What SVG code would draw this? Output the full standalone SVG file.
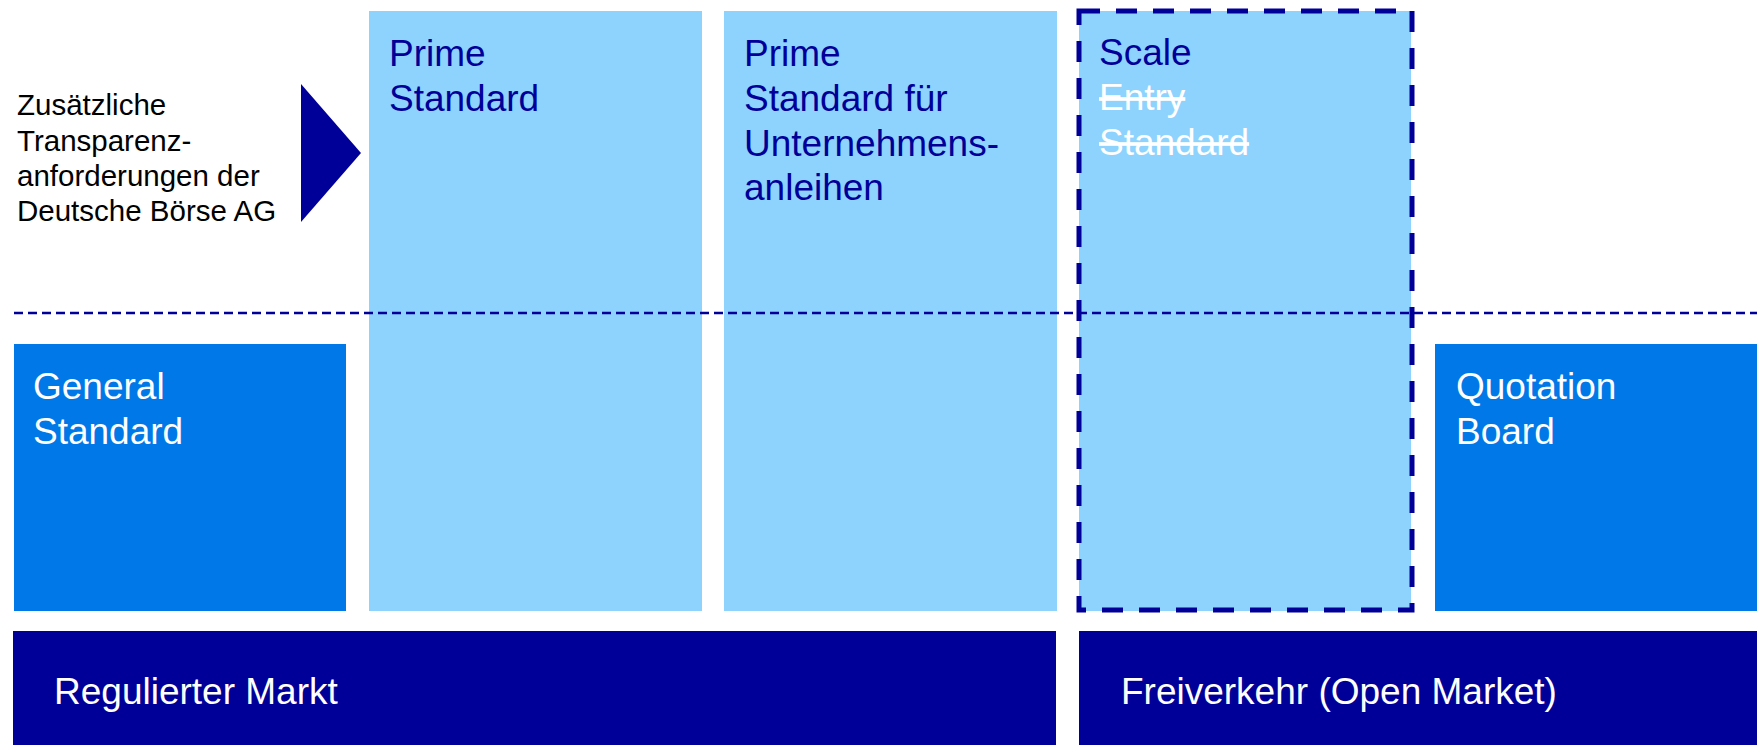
<svg xmlns="http://www.w3.org/2000/svg" width="1757" height="745" viewBox="0 0 1757 745">
<style>
text{font-family:"Liberation Sans",Arial,sans-serif}
.light{fill:#8DD3FE}
.mid{fill:#0078E8}
.dark{fill:#000099}
.t37{font-size:37px}
.navy{fill:#000099}
.white{fill:#ffffff}
.note{font-size:29.5px;fill:#000000}
</style>
<rect width="1757" height="745" fill="#ffffff"/>
<g id="prime-standard">
<rect class="light" x="369" y="11" width="333" height="600"/>
<text class="t37 navy" x="389"><tspan x="389" y="66">Prime</tspan><tspan x="389" y="111">Standard</tspan></text>
</g>
<g id="prime-standard-anleihen">
<rect class="light" x="724" y="11" width="333" height="600"/>
<text class="t37 navy"><tspan x="744" y="66">Prime</tspan><tspan x="744" y="111">Standard für</tspan><tspan x="744" y="156">Unternehmens-</tspan><tspan x="744" y="200">anleihen</tspan></text>
</g>
<g id="scale">
<rect class="light" x="1079" y="11" width="332" height="600"/>
<text class="t37"><tspan class="navy" x="1099" y="65">Scale</tspan><tspan class="white" x="1099" y="110" text-decoration="line-through">Entry</tspan><tspan class="white" x="1099" y="155" text-decoration="line-through">Standard</tspan></text>
</g>
<g id="general-standard">
<rect class="mid" x="14" y="344" width="332" height="267"/>
<text class="t37 white"><tspan x="33" y="399">General</tspan><tspan x="33" y="444">Standard</tspan></text>
</g>
<g id="quotation-board">
<rect class="mid" x="1435" y="344" width="322" height="267"/>
<text class="t37 white"><tspan x="1456" y="399">Quotation</tspan><tspan x="1456" y="444">Board</tspan></text>
</g>
<g id="regulierter-markt">
<rect class="dark" x="13" y="631" width="1043" height="114"/>
<text class="t37 white" x="54" y="704">Regulierter Markt</text>
</g>
<g id="freiverkehr">
<rect class="dark" x="1079" y="631" width="678" height="114"/>
<text class="t37 white" x="1121" y="704">Freiverkehr (Open Market)</text>
</g>
<g id="note">
<text class="note"><tspan x="17" y="115">Zusätzliche</tspan><tspan x="17" y="151">Transparenz-</tspan><tspan x="17" y="186">anforderungen der</tspan><tspan x="17" y="221">Deutsche Börse AG</tspan></text>
<polygon class="dark" points="301,84 361,153 301,222"/>
</g>
<g id="connectors">
<line x1="14" y1="313" x2="1757" y2="313" stroke="#000099" stroke-width="2.5" stroke-dasharray="9 5"/>
<rect x="1079" y="11" width="333" height="599" fill="none" stroke="#000099" stroke-width="5" stroke-dasharray="21 16"/>
</g>
</svg>
